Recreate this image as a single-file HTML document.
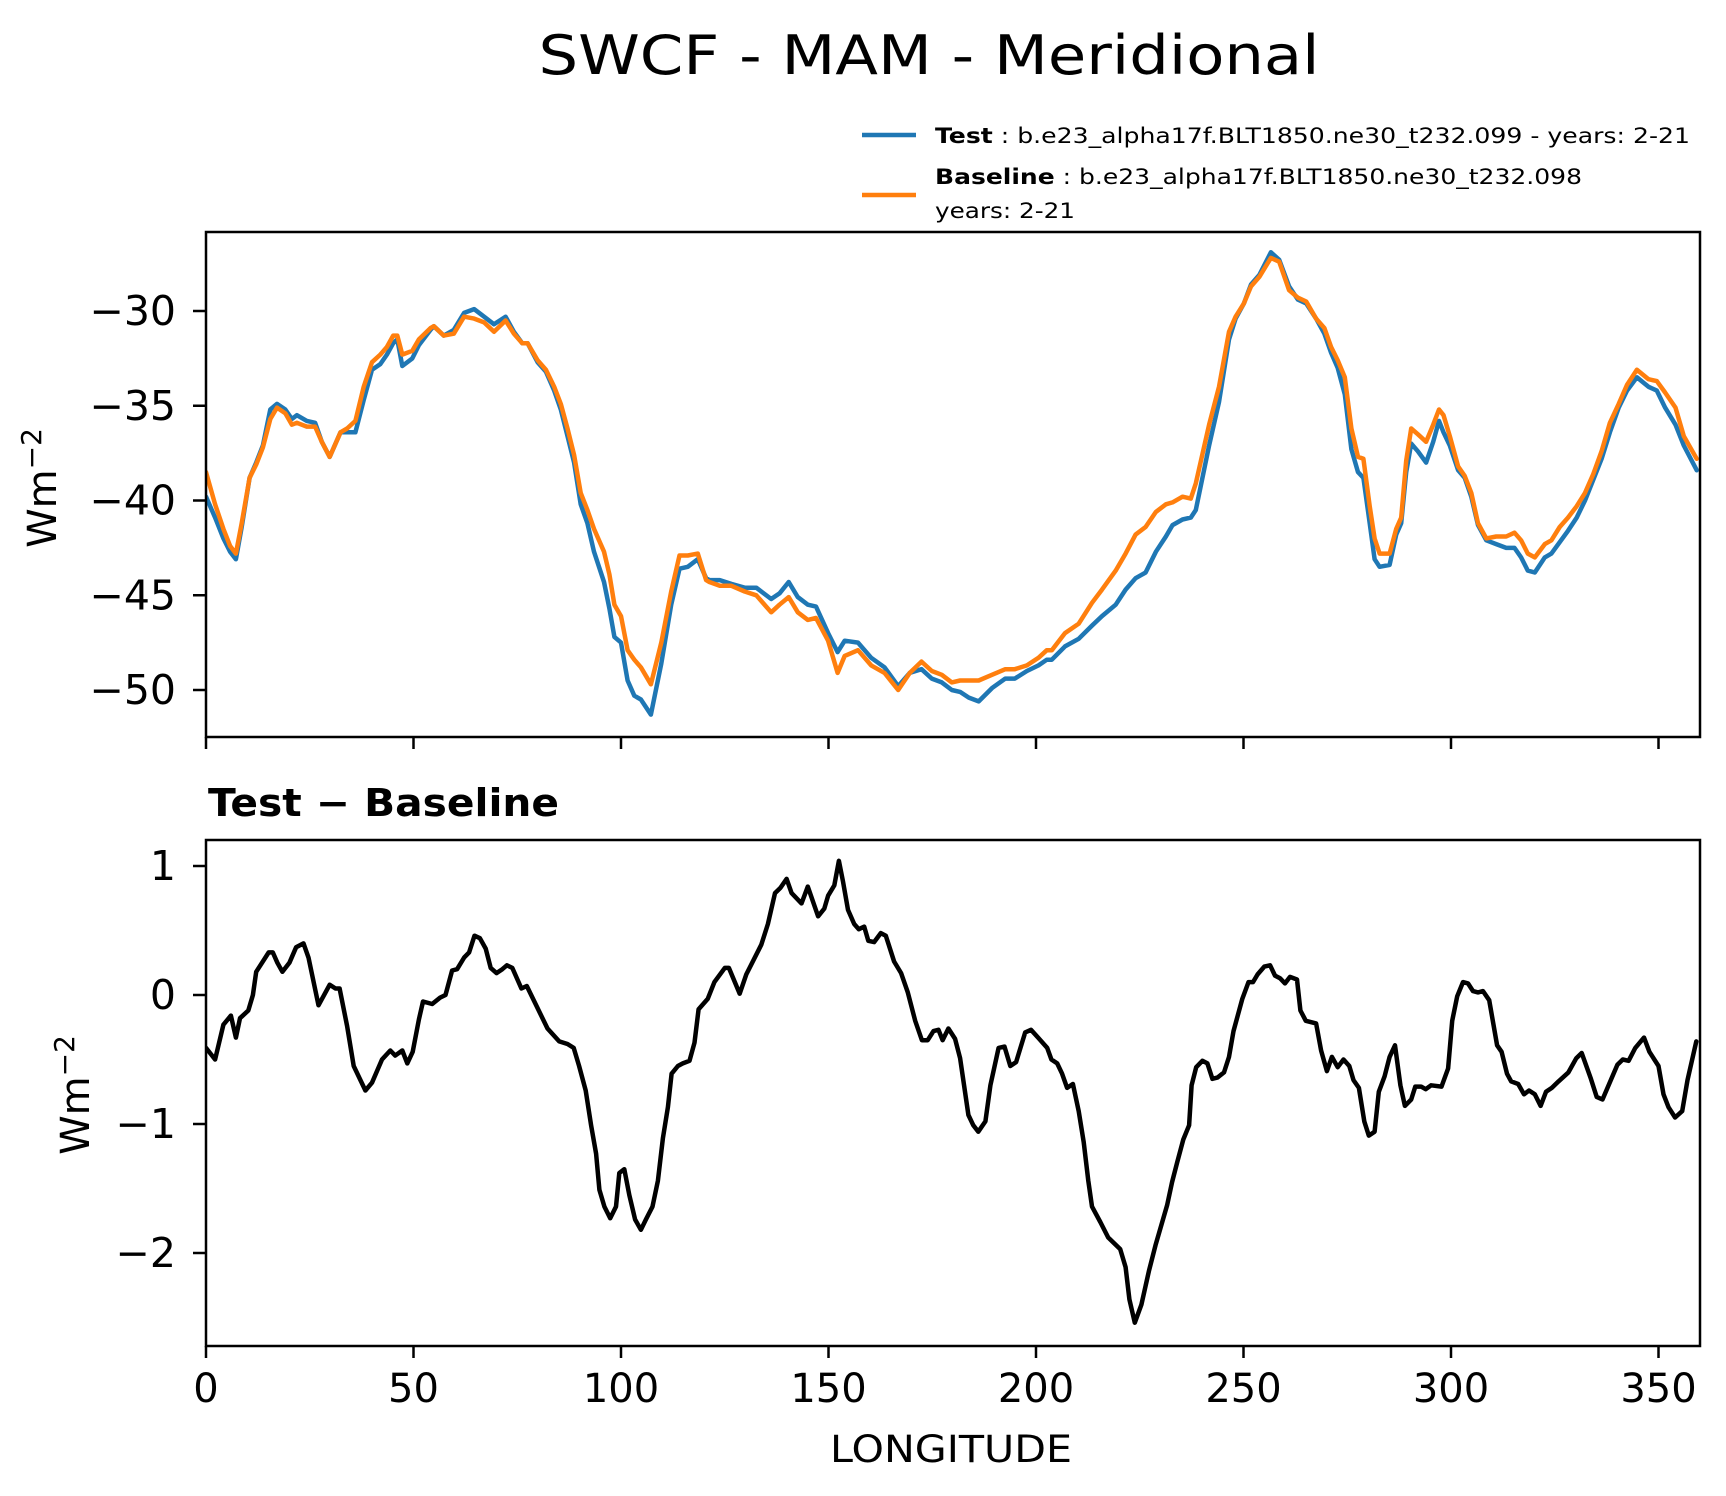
<!DOCTYPE html>
<html>
<head>
<meta charset="utf-8">
<style>
  html,body{margin:0;padding:0;background:#fff;}
  svg{display:block;font-family:"DejaVu Sans","Liberation Sans",sans-serif;}
</style>
</head>
<body>
<svg id="chart" width="1726" height="1496" viewBox="0 0 1726 1496" xmlns="http://www.w3.org/2000/svg">
  <rect x="0" y="0" width="1726" height="1496" fill="#fff"/>
  <text x="929" y="74" text-anchor="middle" font-size="54" textLength="781" lengthAdjust="spacingAndGlyphs">SWCF - MAM - Meridional</text>

  <g>
    <line x1="862" y1="135" x2="916" y2="135" stroke="#1f77b4" stroke-width="4.5"/>
    <text x="935" y="143" font-size="21" textLength="755" lengthAdjust="spacingAndGlyphs"><tspan font-weight="bold">Test</tspan> : b.e23_alpha17f.BLT1850.ne30_t232.099 - years: 2-21</text>
    <line x1="862" y1="195" x2="916" y2="195" stroke="#ff7f0e" stroke-width="4.5"/>
    <text x="935" y="184" font-size="21" textLength="647" lengthAdjust="spacingAndGlyphs"><tspan font-weight="bold">Baseline</tspan> : b.e23_alpha17f.BLT1850.ne30_t232.098</text>
    <text x="935" y="218" font-size="21" textLength="140" lengthAdjust="spacingAndGlyphs">years: 2-21</text>
  </g>

  <g id="top"></g>
  <g id="bot"></g>

  <text x="208" y="816" font-size="38" font-weight="bold" textLength="351" lengthAdjust="spacingAndGlyphs">Test − Baseline</text>
  <text x="951" y="1462" text-anchor="middle" font-size="37" textLength="242" lengthAdjust="spacingAndGlyphs">LONGITUDE</text>
  <text transform="translate(56,488) rotate(-90)" text-anchor="middle" font-size="40">Wm<tspan font-size="28" dy="-15">−2</tspan></text>
  <text transform="translate(89,1095) rotate(-90)" text-anchor="middle" font-size="40">Wm<tspan font-size="28" dy="-15">−2</tspan></text>
</svg>
<script>
const topLon = [0,2.2,4.2,5.8,7.2,8.6,10.5,12.1,13.7,15.5,17.1,19.1,20.7,21.9,24.3,26.3,27.9,29.8,32.4,34.0,36.0,38.0,40.0,42.0,43.6,45.1,46.1,47.3,49.7,51.3,54.1,54.9,57.3,59.7,62.2,64.6,67.0,69.4,72.2,74.2,76.2,77.5,79.9,81.9,83.9,85.5,87.1,88.7,90.3,91.9,93.5,95.9,97.2,98.4,100.0,101.6,103.2,104.8,107.2,109.7,112.1,114.1,116.1,118.5,120.5,
121.3,123.8,126.6,129.8,132.6,136.2,138.2,140.4,142.6,145.0,147.0,149.9,152.2,153.9,157.1,160.3,163.5,166.8,169.6,172.4,174.9,177.3,179.7,181.7,183.8,186.2,189.4,192.6,194.9,197.8,200.6,202.6,203.8,207.0,210.3,213.5,215.9,219.2,221.6,224.0,226.4,228.9,231.3,232.9,235.3,237.3,238.5,
241.7,244.1,246.5,248.1,250.1,251.8,253.8,256.6,258.6,261.0,263.1,265.1,267.5,269.5,271.1,272.7,274.4,276.0,277.6,278.9,280.4,281.6,282.8,285.2,286.8,288.0,289.2,290.4,292.0,294.0,295.7,297.1,298.2,299.7,301.7,303.3,304.9,306.5,308.5,310.9,313.3,315.3,316.9,318.5,320.2,322.6,324.2,326.2,328.2,330.3,332.3,334.3,336.3,338.3,340.4,342.4,344.8,347.6,349.6,351.6,354.1,356.1,359.2];
const testVals = [-39.8,-40.9,-42.0,-42.7,-43.1,-41.4,-38.8,-38.0,-37.1,-35.2,-34.9,-35.2,-35.7,-35.5,-35.8,-35.9,-36.9,-37.7,-36.4,-36.4,-36.4,-34.7,-33.1,-32.8,-32.3,-31.7,-31.5,-32.9,-32.5,-31.8,-31.0,-30.8,-31.3,-31.0,-30.1,-29.9,-30.3,-30.7,-30.3,-31.1,-31.7,-31.7,-32.7,-33.2,-34.2,-35.2,-36.6,-38.0,-40.2,-41.2,-42.7,-44.3,-45.7,-47.2,-47.5,-49.5,-50.3,-50.5,-51.3,-48.6,-45.5,-43.6,-43.5,-43.1,-44.1,
-44.2,-44.2,-44.4,-44.6,-44.6,-45.2,-44.9,-44.3,-45.1,-45.5,-45.6,-47.0,-48.0,-47.4,-47.5,-48.3,-48.8,-49.8,-49.1,-48.9,-49.4,-49.6,-50.0,-50.1,-50.4,-50.6,-49.9,-49.4,-49.4,-49.0,-48.7,-48.4,-48.4,-47.7,-47.3,-46.6,-46.1,-45.5,-44.7,-44.1,-43.8,-42.7,-41.9,-41.3,-41.0,-40.9,-40.5,
-37.1,-34.8,-31.5,-30.4,-29.6,-28.6,-28.1,-26.9,-27.3,-28.7,-29.4,-29.6,-30.4,-31.2,-32.2,-33.0,-34.4,-37.3,-38.5,-38.8,-41.2,-43.1,-43.5,-43.4,-41.8,-41.2,-38.5,-37.0,-37.4,-38.0,-36.9,-35.8,-36.4,-37.1,-38.4,-38.8,-39.8,-41.3,-42.1,-42.3,-42.5,-42.5,-43.0,-43.7,-43.8,-43.0,-42.8,-42.2,-41.6,-40.9,-40.0,-38.9,-37.8,-36.4,-35.1,-34.2,-33.5,-34.0,-34.2,-35.1,-36.0,-37.1,-38.4];
const baseVals = [-38.5,-40.2,-41.5,-42.4,-42.8,-41.2,-38.8,-38.1,-37.2,-35.7,-35.1,-35.4,-36.0,-35.9,-36.1,-36.1,-36.9,-37.7,-36.4,-36.2,-35.8,-34.0,-32.7,-32.3,-31.9,-31.3,-31.3,-32.3,-32.1,-31.5,-30.9,-30.8,-31.3,-31.2,-30.3,-30.4,-30.6,-31.1,-30.5,-31.2,-31.7,-31.7,-32.6,-33.1,-34.0,-34.9,-36.2,-37.6,-39.6,-40.5,-41.5,-42.7,-43.9,-45.5,-46.1,-47.9,-48.4,-48.8,-49.7,-47.5,-44.8,-42.9,-42.9,-42.8,-44.2,
-44.3,-44.5,-44.5,-44.8,-45.0,-45.9,-45.5,-45.1,-45.9,-46.3,-46.2,-47.4,-49.1,-48.2,-47.9,-48.7,-49.1,-50.0,-49.1,-48.5,-49.0,-49.2,-49.6,-49.5,-49.5,-49.5,-49.2,-48.9,-48.9,-48.7,-48.3,-47.9,-47.9,-47.0,-46.5,-45.4,-44.7,-43.7,-42.8,-41.8,-41.4,-40.6,-40.2,-40.1,-39.8,-39.9,-39.1,
-36.0,-34.0,-31.1,-30.3,-29.6,-28.7,-28.2,-27.2,-27.4,-28.9,-29.3,-29.5,-30.4,-30.9,-31.9,-32.6,-33.5,-36.2,-37.7,-37.8,-40.3,-42.0,-42.8,-42.8,-41.5,-40.9,-37.9,-36.2,-36.5,-36.9,-36.0,-35.2,-35.5,-36.6,-38.2,-38.7,-39.6,-41.2,-42.0,-41.9,-41.9,-41.7,-42.1,-42.8,-43.0,-42.3,-42.1,-41.4,-40.9,-40.3,-39.6,-38.6,-37.4,-35.9,-34.9,-33.9,-33.1,-33.6,-33.7,-34.3,-35.1,-36.6,-37.8];

const diffLon = [0,2.2,4.2,6.0,7.2,8.2,10.2,11.3,12.1,15.1,16.1,17.2,18.4,20.1,21.7,23.5,24.7,27.1,29.8,31.2,32.2,34.0,35.6,38.4,40.0,42.4,44.4,45.6,47.3,48.5,49.8,51.3,52.3,54.5,56.4,57.7,59.3,60.5,62.2,63.4,64.7,66.0,67.4,68.6,70.0,71.4,72.5,73.8,76.0,77.3,82.3,85.1,87.1,88.6,89.9,91.5,92.8,94.0,94.8,96.0,97.4,98.8,99.6,100.8,102.0,103.4,104.8,106.0,107.6,108.9,110.1,111.3,112.2,113.7,114.9,116.5,117.7,118.7,
120.9,122.5,125.0,126.0,128.6,130.2,133.8,135.4,137.1,138.4,139.9,141.1,143.5,145.0,147.5,149.0,149.9,151.4,152.5,153.5,154.7,156.2,157.3,158.6,159.6,161.0,162.6,163.8,165.8,167.5,169.1,170.9,172.5,173.9,175.3,176.5,177.5,178.9,180.5,181.7,183.7,184.9,186.1,187.8,189.0,191.0,192.4,193.8,195.2,197.4,198.8,200.5,202.7,203.7,205.1,206.3,207.5,208.9,210.3,211.5,212.6,213.5,215.5,217.4,218.7,220.3,221.6,222.5,223.8,225.4,227.2,228.8,231.6,232.8,234.0,235.5,236.9,237.5,238.6,
240.1,241.3,242.5,243.7,245.3,246.5,247.6,249.7,251.2,252.3,253.4,255.0,256.4,257.6,258.8,260.0,261.2,262.9,263.7,265.0,267.5,268.7,270.1,271.3,272.7,274.1,275.5,276.5,277.8,279.1,280.2,281.6,282.6,284.0,285.2,286.5,287.8,288.9,290.4,291.4,292.8,293.9,295.2,297.7,299.3,300.3,301.5,302.9,304.1,305.3,306.5,307.7,309.2,311.1,312.2,313.5,314.5,316.2,317.6,318.8,320.2,321.6,322.9,324.3,325.9,328.3,330.2,331.5,333.7,335.1,336.5,338.5,340.1,341.4,342.8,344.4,346.5,347.8,350.0,351.2,352.4,354.0,355.7,357.0,359.1];
const diffVals = [-0.41,-0.50,-0.23,-0.16,-0.33,-0.18,-0.12,0.0,0.18,0.33,0.33,0.25,0.18,0.25,0.37,0.40,0.29,-0.08,0.08,0.05,0.05,-0.24,-0.55,-0.74,-0.68,-0.50,-0.43,-0.47,-0.43,-0.53,-0.44,-0.19,-0.05,-0.07,-0.02,0.0,0.19,0.20,0.29,0.33,0.46,0.44,0.36,0.21,0.17,0.20,0.23,0.21,0.05,0.07,-0.26,-0.36,-0.38,-0.41,-0.55,-0.74,-1.01,-1.23,-1.51,-1.64,-1.73,-1.64,-1.38,-1.35,-1.55,-1.74,-1.82,-1.74,-1.64,-1.44,-1.11,-0.87,-0.61,-0.55,-0.53,-0.51,-0.37,-0.11,
-0.03,0.10,0.21,0.21,0.01,0.16,0.39,0.55,0.79,0.83,0.90,0.79,0.71,0.84,0.61,0.67,0.77,0.85,1.04,0.88,0.66,0.55,0.51,0.53,0.42,0.41,0.48,0.46,0.26,0.17,0.02,-0.20,-0.35,-0.35,-0.28,-0.27,-0.35,-0.26,-0.34,-0.49,-0.93,-1.01,-1.06,-0.98,-0.70,-0.41,-0.40,-0.55,-0.52,-0.29,-0.27,-0.33,-0.41,-0.50,-0.53,-0.61,-0.72,-0.69,-0.90,-1.14,-1.44,-1.64,-1.76,-1.88,-1.92,-1.97,-2.11,-2.36,-2.54,-2.40,-2.14,-1.94,-1.63,-1.45,-1.30,-1.12,-1.01,-0.70,-0.56,
-0.51,-0.53,-0.65,-0.64,-0.60,-0.48,-0.28,-0.03,0.10,0.10,0.16,0.22,0.23,0.15,0.13,0.09,0.14,0.12,-0.12,-0.20,-0.22,-0.43,-0.59,-0.48,-0.56,-0.50,-0.55,-0.66,-0.72,-0.98,-1.09,-1.06,-0.75,-0.63,-0.48,-0.39,-0.70,-0.86,-0.81,-0.71,-0.71,-0.73,-0.70,-0.71,-0.57,-0.20,-0.01,0.10,0.09,0.03,0.02,0.03,-0.04,-0.39,-0.44,-0.61,-0.67,-0.69,-0.77,-0.74,-0.77,-0.86,-0.75,-0.72,-0.67,-0.60,-0.49,-0.45,-0.65,-0.79,-0.81,-0.66,-0.54,-0.50,-0.51,-0.41,-0.33,-0.44,-0.55,-0.77,-0.87,-0.95,-0.90,-0.66,-0.36];

const xTicks = [0,50,100,150,200,250,300,350];
const topYTicks = [-30,-35,-40,-45,-50];
const botYTicks = [1,0,-1,-2];
const botYTickLabels = ["1","0","−1","−2"];

const NS = "http://www.w3.org/2000/svg";
const X0 = 206, X1 = 1700;
const xs = v => X0 + (v / 360) * (X1 - X0);
const topY = v => 311 + (-30 - v) * 18.95;
const botY = v => 995 - v * 129;

function mk(tag, attrs, parent) {
  const el = document.createElementNS(NS, tag);
  for (const k in attrs) el.setAttribute(k, attrs[k]);
  parent.appendChild(el);
  return el;
}

function drawPanel(g, y0, y1, yfn, yTicks, yLabels, showXLabels, prefix) {
  const clipId = prefix + "-clip";
  const defs = mk("defs", {}, g);
  const cp = mk("clipPath", {id: clipId}, defs);
  mk("rect", {x: X0, y: y0, width: X1 - X0, height: y1 - y0}, cp);
  const plot = mk("g", {"clip-path": "url(#" + clipId + ")"}, g);
  
  

  xTicks.forEach(t => {
    const tk = mk("line", {x1: xs(t), x2: xs(t), y1: y1, y2: y1 + 12, stroke: "#000", "stroke-width": 2.5}, g);
    
    
    if (showXLabels) {
      const lb = mk("text", {x: xs(t), y: y1 + 56, "text-anchor": "middle", "font-size": 40}, g);
      
      
      lb.textContent = String(t);
    }
  });
  yTicks.forEach((t, i) => {
    const yy = yfn(t);
    const tk = mk("line", {x1: X0 - 13, x2: X0, y1: yy, y2: yy, stroke: "#000", "stroke-width": 2.5}, g);
    
    
    const lb = mk("text", {x: X0 - 30, y: yy + 14, "text-anchor": "end", "font-size": 41}, g);
    
    
    lb.textContent = yLabels[i];
  });
  return plot;
}

function line(parent, lons, vals, yfn, color, name) {
  const pts = lons.map((l, i) => xs(l).toFixed(1) + "," + yfn(vals[i]).toFixed(1)).join(" ");
  const pl = mk("polyline", {points: pts, fill: "none", stroke: color, "stroke-width": 4.5, "stroke-linejoin": "round", "stroke-linecap": "round"}, parent);
  
  
}

const T0 = 232, T1 = 737, B0 = 840, B1 = 1346;
const topG = document.getElementById("top");
const topPlot = drawPanel(topG, T0, T1, topY, topYTicks, topYTicks.map(t => "−" + Math.abs(t)), false, "top");
line(topPlot, topLon, testVals, topY, "#1f77b4", "test-line");
line(topPlot, topLon, baseVals, topY, "#ff7f0e", "baseline-line");
const topFrame = mk("rect", {x: X0, y: T0, width: X1 - X0, height: T1 - T0, fill: "none", stroke: "#000", "stroke-width": 2.5}, topG);



const botG = document.getElementById("bot");
const botPlot = drawPanel(botG, B0, B1, botY, botYTicks, botYTickLabels, true, "bottom");
line(botPlot, diffLon, diffVals, botY, "#000", "difference-line");
const botFrame = mk("rect", {x: X0, y: B0, width: X1 - X0, height: B1 - B0, fill: "none", stroke: "#000", "stroke-width": 2.5}, botG);


</script>
</body>
</html>
